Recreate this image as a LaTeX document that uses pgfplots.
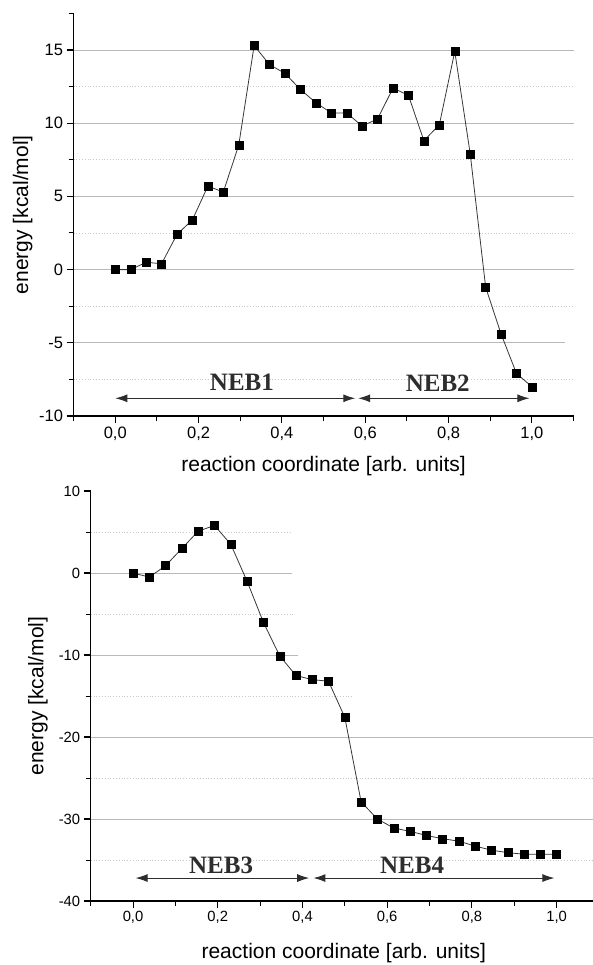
\documentclass[border=0pt]{standalone}
\usepackage{fontspec}
\setmainfont{Liberation Sans}
\newfontfamily\nebfont{Liberation Serif}
\usepackage{pgfplots}
\pgfplotsset{compat=1.18}
\usetikzlibrary{arrows.meta}

\definecolor{majgrid}{RGB}{185,185,185}
\definecolor{mingrid}{RGB}{200,200,200}
\definecolor{curve}{RGB}{55,55,55}
\definecolor{nebgray}{RGB}{45,45,45}

\tikzset{
  maj/.style={majgrid, line width=0.9pt},
  mnr/.style={mingrid, dotted, line width=0.8pt},
  neb/.style={nebgray, line width=1pt, {Latex[length=12pt,width=8pt]}-{Latex[length=12pt,width=8pt]}},
  nebtxt/.style={font=\nebfont\bfseries\fontsize{25}{30}\selectfont, text=nebgray},
}

\pgfplotsset{
  nebaxis/.style={
    scale only axis,
    axis x line=bottom, axis y line=left,
    axis line style={-, line width=1.3pt, black},
    tick align=outside,
    major tick length=7pt, minor tick length=5pt,
    every tick/.append style={black, line width=1.1pt},
    every minor tick/.append style={black, line width=1pt},
    xmin=-0.1, xmax=1.1,
    xtick={0,0.2,0.4,0.6,0.8,1.0},
    minor xtick={-0.1,0.1,0.3,0.5,0.7,0.9,1.1},
    x tick label style={/pgf/number format/.cd, use comma, fixed, fixed zerofill, precision=1},
    /pgf/number format/assume math mode=true,
    label style={font=\fontsize{21}{25}\selectfont},
    xlabel={reaction coordinate [arb. units]},
    ylabel={energy [kcal/mol]},
    clip=false,
  },
  curvestyle/.style={curve, line width=0.8pt, mark=square*, mark size=4pt,
    mark options={solid, fill=black, draw=black, line width=0.3pt}},
}

\begin{document}
\begin{tikzpicture}
\useasboundingbox (0,0) rectangle (593pt,-965pt);

% upper panel: NEB1 / NEB2
\begin{axis}[nebaxis,
  at={(73.6pt,-416pt)}, anchor=south west,
  width=500pt, height=402.6pt,
  ymin=-10, ymax=17.5,
  ytick={-10,-5,0,5,10,15},
  minor ytick={-7.5,-2.5,2.5,7.5,12.5,17.5},
  tick label style={font=\fontsize{16.5}{19}\selectfont},
  xlabel style={at={(axis description cs:0.5,-0.124)}, anchor=center},
  ylabel style={at={(axis description cs:-0.102,0.5)}, anchor=center},
]
\draw[maj] (axis cs:-0.1,15) -- (axis cs:1.1,15);
\draw[maj] (axis cs:-0.1,10) -- (axis cs:1.1,10);
\draw[maj] (axis cs:-0.1,5) -- (axis cs:1.1,5);
\draw[maj] (axis cs:-0.1,0) -- (axis cs:1.1,0);
\draw[maj] (axis cs:-0.1,-5) -- (axis cs:1.08,-5);
\draw[mnr] (axis cs:-0.1,12.5) -- (axis cs:1.1,12.5);
\draw[mnr] (axis cs:-0.1,7.5) -- (axis cs:1.1,7.5);
\draw[mnr] (axis cs:-0.1,2.5) -- (axis cs:1.1,2.5);
\draw[mnr] (axis cs:-0.1,-2.5) -- (axis cs:1.1,-2.5);
\draw[mnr] (axis cs:-0.1,-7.5) -- (axis cs:1.1,-7.5);
\draw[neb] (axis cs:0,-8.79) -- (axis cs:0.576,-8.79);
\draw[neb] (axis cs:0.583,-8.79) -- (axis cs:0.994,-8.79);
\node[nebtxt] at (axis cs:0.304,-7.73) {NEB1};
\node[nebtxt] at (axis cs:0.774,-7.73) {NEB2};
\addplot[curvestyle] coordinates {
(0.0000,0.0) (0.0370,0.0) (0.0741,0.5) (0.1111,0.4) (0.1481,2.4) (0.1852,3.4) (0.2222,5.7)
(0.2593,5.3) (0.2963,8.5) (0.3333,15.3) (0.3704,14.0) (0.4074,13.4) (0.4444,12.3) (0.4815,11.4)
(0.5185,10.7) (0.5556,10.7) (0.5926,9.8) (0.6296,10.3) (0.6667,12.4) (0.7037,11.9) (0.7407,8.8)
(0.7778,9.9) (0.8148,14.9) (0.8519,7.9) (0.8889,-1.2) (0.9259,-4.4) (0.9630,-7.1) (1.0000,-8.0)};
\end{axis}

% lower panel: NEB3 / NEB4
\begin{axis}[nebaxis,
  at={(90.7pt,-901pt)}, anchor=south west,
  width=508.2pt, height=410pt,
  ymin=-40, ymax=10,
  ytick={-40,-30,-20,-10,0,10},
  minor ytick={-35,-25,-15,-5,5},
  tick label style={font=\fontsize{14.8}{18}\selectfont},
  xlabel style={at={(axis description cs:0.498,-0.127)}, anchor=center},
  ylabel style={at={(axis description cs:-0.104,0.5)}, anchor=center},
]
\draw[maj] (axis cs:-0.1,0) -- (axis cs:0.375,0);
\draw[maj] (axis cs:-0.1,-10) -- (axis cs:0.39,-10);
\draw[maj] (axis cs:-0.1,-20) -- (axis cs:1.1,-20);
\draw[maj] (axis cs:-0.1,-30) -- (axis cs:1.1,-30);
\draw[mnr] (axis cs:-0.1,5) -- (axis cs:0.37,5);
\draw[mnr] (axis cs:-0.1,-5) -- (axis cs:0.38,-5);
\draw[mnr] (axis cs:-0.1,-15) -- (axis cs:0.52,-15);
\draw[mnr] (axis cs:-0.1,-25) -- (axis cs:1.1,-25);
\draw[mnr] (axis cs:-0.1,-35) -- (axis cs:1.1,-35);
\draw[neb] (axis cs:0.006,-37.2) -- (axis cs:0.416,-37.2);
\draw[neb] (axis cs:0.426,-37.2) -- (axis cs:0.995,-37.2);
\node[nebtxt] at (axis cs:0.208,-35.7) {NEB3};
\node[nebtxt] at (axis cs:0.659,-35.7) {NEB4};
\addplot[curvestyle] coordinates {
(0.0000,0.0) (0.0385,-0.5) (0.0769,0.9) (0.1154,3.0) (0.1538,5.1) (0.1923,5.8) (0.2308,3.5)
(0.2692,-1.0) (0.3077,-6.0) (0.3462,-10.1) (0.3846,-12.5) (0.4231,-13.0) (0.4615,-13.2)
(0.5000,-17.6) (0.5385,-27.9) (0.5769,-30.0) (0.6154,-31.1) (0.6538,-31.5) (0.6923,-32.0)
(0.7308,-32.4) (0.7692,-32.7) (0.8077,-33.3) (0.8462,-33.8) (0.8846,-34.1) (0.9231,-34.3)
(0.9615,-34.3) (1.0000,-34.3)};
\end{axis}
\end{tikzpicture}
\end{document}
